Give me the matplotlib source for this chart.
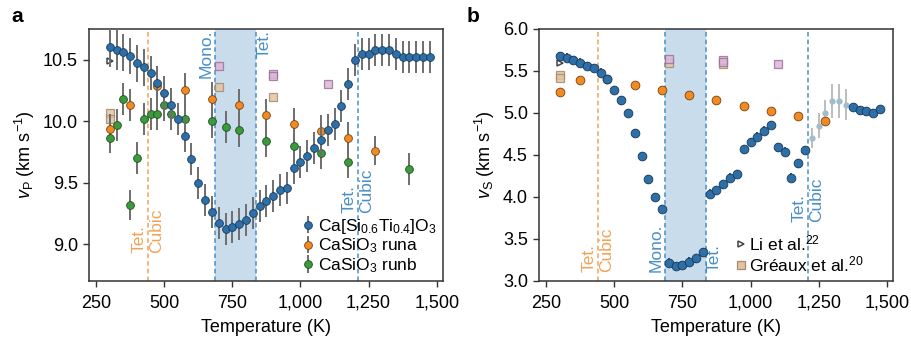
import numpy as np
import matplotlib.pyplot as plt

plt.rcParams['font.family'] = ['Liberation Sans', 'DejaVu Sans']
plt.rcParams['mathtext.fontset'] = 'custom'
plt.rcParams['mathtext.rm'] = 'Liberation Sans'
plt.rcParams['mathtext.it'] = 'Liberation Sans:italic'

# temperatures (K)
t_cst = np.arange(300, 1500, 25)
t_runa = [300, 375, 475, 575, 675, 775, 875, 975, 1075, 1175, 1275]
t_runb = [300, 325, 350, 375, 400, 425, 450, 475, 500, 525, 575, 675, 725, 775,
          875, 975, 1075, 1175, 1400]

# panel a: vP (km/s)
vp_cst = [10.60, 10.58, 10.56, 10.53, 10.47, 10.44, 10.39, 10.31,
          10.23, 10.13, 10.02, 9.88, 9.69, 9.50, 9.36, 9.26,
          9.17, 9.12, 9.14, 9.165, 9.20, 9.25, 9.31, 9.35,
          9.39, 9.44, 9.46, 9.62, 9.67, 9.72, 9.785, 9.85,
          9.93, 9.98, 10.125, 10.30, 10.495, 10.546, 10.55, 10.58,
          10.58, 10.58, 10.55, 10.52, 10.52, 10.52, 10.52, 10.52]
vp_cst_err = [0.16, 0.16, 0.15, 0.15, 0.15, 0.15, 0.14, 0.14,
              0.14, 0.14, 0.13, 0.13, 0.13, 0.13, 0.13, 0.13,
              0.13, 0.13, 0.13, 0.13, 0.13, 0.13, 0.13, 0.13,
              0.13, 0.13, 0.13, 0.13, 0.13, 0.13, 0.13, 0.13,
              0.13, 0.13, 0.13, 0.13, 0.13, 0.13, 0.13, 0.13,
              0.13, 0.13, 0.13, 0.13, 0.13, 0.13, 0.13, 0.13]
vp_runa = [9.94, 10.13, 10.29, 10.25, 10.18, 10.13, 10.05, 9.98, 9.92, 9.86, 9.76]
vp_runa_err = [0.12, 0.13, 0.13, 0.14, 0.14, 0.13, 0.13, 0.13, 0.13, 0.13, 0.12]
vp_runb = [9.86, 9.97, 10.18, 9.32, 9.70, 10.02, 10.06, 10.06, 10.13, 10.06,
           10.02, 10.00, 9.95, 9.93, 9.84, 9.80, 9.74, 9.67, 9.61]
vp_runb_err = [0.12, 0.13, 0.13, 0.12, 0.13, 0.13, 0.13, 0.13, 0.13, 0.13,
               0.13, 0.14, 0.13, 0.14, 0.13, 0.13, 0.13, 0.13, 0.13]

# panel b: vS (km/s)
vs_cst = [5.68, 5.66, 5.63, 5.60, 5.56, 5.535, 5.48, 5.40,
          5.27, 5.15, 5.00, 4.76, 4.49, 4.21, 4.00, 3.86,
          3.22, 3.18, 3.19, 3.23, 3.27, 3.34, 4.04, 4.085,
          4.15, 4.23, 4.275, 4.57, 4.65, 4.72, 4.79, 4.86,
          4.59, 4.54, 4.23, 4.40, 4.56, 4.70, 4.85, 5.00,
          5.14, 5.145, 5.10, 5.07, 5.03, 5.02, 5.00, 5.05]
vs_cst_err = [0.05, 0.05, 0.05, 0.05, 0.05, 0.05, 0.05, 0.05,
              0.05, 0.05, 0.05, 0.05, 0.05, 0.05, 0.05, 0.05,
              0.05, 0.05, 0.05, 0.05, 0.05, 0.05, 0.05, 0.05,
              0.05, 0.05, 0.05, 0.05, 0.05, 0.05, 0.05, 0.05,
              0.05, 0.05, 0.05, 0.05, 0.05, 0.12, 0.15, 0.16,
              0.20, 0.20, 0.18, 0.05, 0.05, 0.05, 0.05, 0.05]
vs_faded = [False] * 37 + [True] * 6 + [False] * 5
vs_runa = [5.245, 5.396, 5.40, 5.33, 5.277, 5.21, 5.15, 5.086, 5.027, 4.967, 4.907]

# literature values
t_li = [300]
vp_li = [10.49]
vs_li = [5.595]
t_greaux_tan = [300, 300, 700, 900]
vp_greaux_tan = [10.065, 10.02, 10.28, 10.20]
vs_greaux_tan = [5.45, 5.42, 5.60, 5.58]
t_greaux_pink = [700, 900, 900, 1100]
vp_greaux_pink = [10.445, 10.385, 10.37, 10.30]
vs_greaux_pink = [5.64, 5.635, 5.61, 5.58]

# phase transitions (K)
t_tet_cubic_cs = 440
t_mono = 685
t_tet = 835
t_tet_cubic = 1210

c_blue = '#2d6fa6'
c_orange = '#f28a22'
c_green = '#3a9a3c'
c_err = '#6e6e6e'
c_lorange = '#f0a35a'
c_lblue = '#4a8fc6'
c_shade = '#c9dcec'
fs = 13

fig = plt.figure(figsize=(9.11, 3.43), dpi=100)
ax_a = fig.add_axes([0.0977, 0.1808, 0.3886, 0.7347])
ax_b = fig.add_axes([0.5917, 0.1808, 0.3886, 0.7347])


def phases(ax, y_cs, y_mono, y_tet, y_tc):
    ax.axvspan(t_mono, t_tet, color=c_shade, zorder=0, lw=0)
    ax.axvline(t_tet_cubic_cs, color=c_lorange, ls=(0, (3, 2)), lw=1.1, zorder=1)
    for t in (t_mono, t_tet, t_tet_cubic):
        ax.axvline(t, color=c_lblue, ls=(0, (3, 2)), lw=1.1, zorder=1)
    kw = dict(rotation=90, fontsize=12.5, rotation_mode='anchor')
    d = 4
    ax.text(t_tet_cubic_cs - d, y_cs, 'Tet.', color=c_lorange, ha='left', va='bottom', **kw)
    ax.text(t_tet_cubic_cs + d, y_cs, 'Cubic', color=c_lorange, ha='left', va='top', **kw)
    if y_mono[1] == 'top':
        ax.text(t_mono - d, y_mono[0], 'Mono.', color=c_lblue, ha='right', va='bottom', **kw)
        ax.text(t_tet + d, y_tet[0], 'Tet.', color=c_lblue, ha='right', va='top', **kw)
    else:
        ax.text(t_mono - d, y_mono[0], 'Mono.', color=c_lblue, ha='left', va='bottom', **kw)
        ax.text(t_tet + d, y_tet[0], 'Tet.', color=c_lblue, ha='left', va='top', **kw)
    ax.text(t_tet_cubic - d, y_tc, 'Tet.', color=c_lblue, ha='left', va='bottom', **kw)
    ax.text(t_tet_cubic + d, y_tc, 'Cubic', color=c_lblue, ha='left', va='top', **kw)


def style(ax, ylabel):
    ax.set_xlim(224, 1523)
    ax.set_xticks([250, 500, 750, 1000, 1250, 1500])
    ax.set_xticklabels(['250', '500', '750', '1,000', '1,250', '1,500'])
    ax.set_xlabel('Temperature (K)', fontsize=fs, labelpad=5)
    ax.set_ylabel(ylabel, fontsize=fs, labelpad=4)
    ax.tick_params(labelsize=fs, length=4, width=1, color='#333333')
    ax.tick_params(axis='x', pad=6)
    ax.tick_params(axis='y', pad=4)
    for s in ax.spines.values():
        s.set_color('#333333')
        s.set_linewidth(1.1)


def squares(ax, vt, vp):
    ax.plot(t_greaux_tan, vt, 's', ms=5.5, mfc='#e2c4a4', mec='#a88a6c', mew=0.9,
            alpha=0.85, zorder=3, ls='none')
    ax.plot(t_greaux_pink, vp, 's', ms=5.5, mfc='#dcb6d8', mec='#9a7496', mew=0.9,
            alpha=0.85, zorder=3, ls='none')


# ---- panel a ----
phases(ax_a, 8.93, (10.745, 'top'), (10.745, 'top'), 9.25)
ax_a.errorbar(t_runb, vp_runb, yerr=vp_runb_err, fmt='o', ms=5.6, mfc=c_green,
              mec='#1f4f20', mew=0.6, ecolor=c_err, elinewidth=1.4, capsize=0,
              zorder=4, label='CaSiO$_3$ runb')
ax_a.errorbar(t_runa, vp_runa, yerr=vp_runa_err, fmt='o', ms=5.6, mfc=c_orange,
              mec='#7a4010', mew=0.6, ecolor=c_err, elinewidth=1.4, capsize=0,
              zorder=4, label='CaSiO$_3$ runa')
ax_a.errorbar(t_cst, vp_cst, yerr=vp_cst_err, fmt='o', ms=5.6, mfc=c_blue,
              mec='#173a5a', mew=0.6, ecolor=c_err, elinewidth=1.4, capsize=0,
              zorder=5, label='Ca[Si$_{0.6}$Ti$_{0.4}$]O$_3$')
squares(ax_a, vp_greaux_tan, vp_greaux_pink)
ax_a.plot(t_li, vp_li, '>', ms=5, mfc='white', mec='#444444', mew=1.1, zorder=3)
ax_a.set_ylim(8.70, 10.75)
ax_a.set_yticks([9.0, 9.5, 10.0, 10.5])
ax_a.set_yticklabels(['9.0', '9.5', '10.0', '10.5'])
style(ax_a, r'$v_{\mathrm{P}}$ (km s$^{-1}$)')
h, l = ax_a.get_legend_handles_labels()
ax_a.legend(h[::-1], l[::-1], loc='lower right', frameon=False, fontsize=12.5,
            handletextpad=0.1, handlelength=1.0, labelspacing=0.05,
            borderaxespad=0.15, borderpad=0.2)

# ---- panel b ----
phases(ax_b, 3.11, (3.11, 'bottom'), (3.11, 'bottom'), 3.7)
faded = np.array(vs_faded)
tc = np.array(t_cst)
vc = np.array(vs_cst)
ec = np.array(vs_cst_err)
ax_b.errorbar(tc[faded], vc[faded], yerr=ec[faded], fmt='o', ms=4.5,
              mfc='#a3bccb', mec='none', ecolor='#bdbdbd', elinewidth=1.4,
              capsize=0, zorder=4)
ax_b.errorbar(tc[~faded], vc[~faded], yerr=ec[~faded], fmt='o', ms=6.3,
              mfc=c_blue, mec='#173a5a', mew=0.6, ecolor='#173a5a',
              elinewidth=1.2, capsize=0, zorder=5)
ax_b.plot(t_runa, vs_runa, 'o', ms=6.3, mfc=c_orange, mec='#7a4010', mew=0.6,
          zorder=4)
squares(ax_b, vs_greaux_tan, vs_greaux_pink)
ax_b.plot(t_li, vs_li, '>', ms=5, mfc='white', mec='#444444', mew=1.1, zorder=3)
ax_b.set_ylim(3.0, 6.0)
ax_b.set_yticks([3.0, 3.5, 4.0, 4.5, 5.0, 5.5, 6.0])
ax_b.set_yticklabels(['3.0', '3.5', '4.0', '4.5', '5.0', '5.5', '6.0'])
style(ax_b, r'$v_{\mathrm{S}}$ (km s$^{-1}$)')
li_h = plt.Line2D([], [], marker='>', ls='none', ms=5, mfc='white', mec='#444444', mew=1.1)
gr_h = plt.Line2D([], [], marker='s', ls='none', ms=5.5, mfc='#e2c4a4', mec='#a88a6c', mew=0.9)
ax_b.legend([li_h, gr_h], ['Li et al.$^{22}$', 'Gréaux et al.$^{20}$'],
            loc='lower left', bbox_to_anchor=(0.53, 0.0), frameon=False,
            fontsize=12.5, handletextpad=0.1, handlelength=0.8,
            labelspacing=0.05, borderaxespad=0.2, borderpad=0.2)

fig.text(0.012, 0.935, 'a', fontsize=15, fontweight='bold')
fig.text(0.512, 0.935, 'b', fontsize=15, fontweight='bold')

fig.savefig('out.png', dpi=100)
